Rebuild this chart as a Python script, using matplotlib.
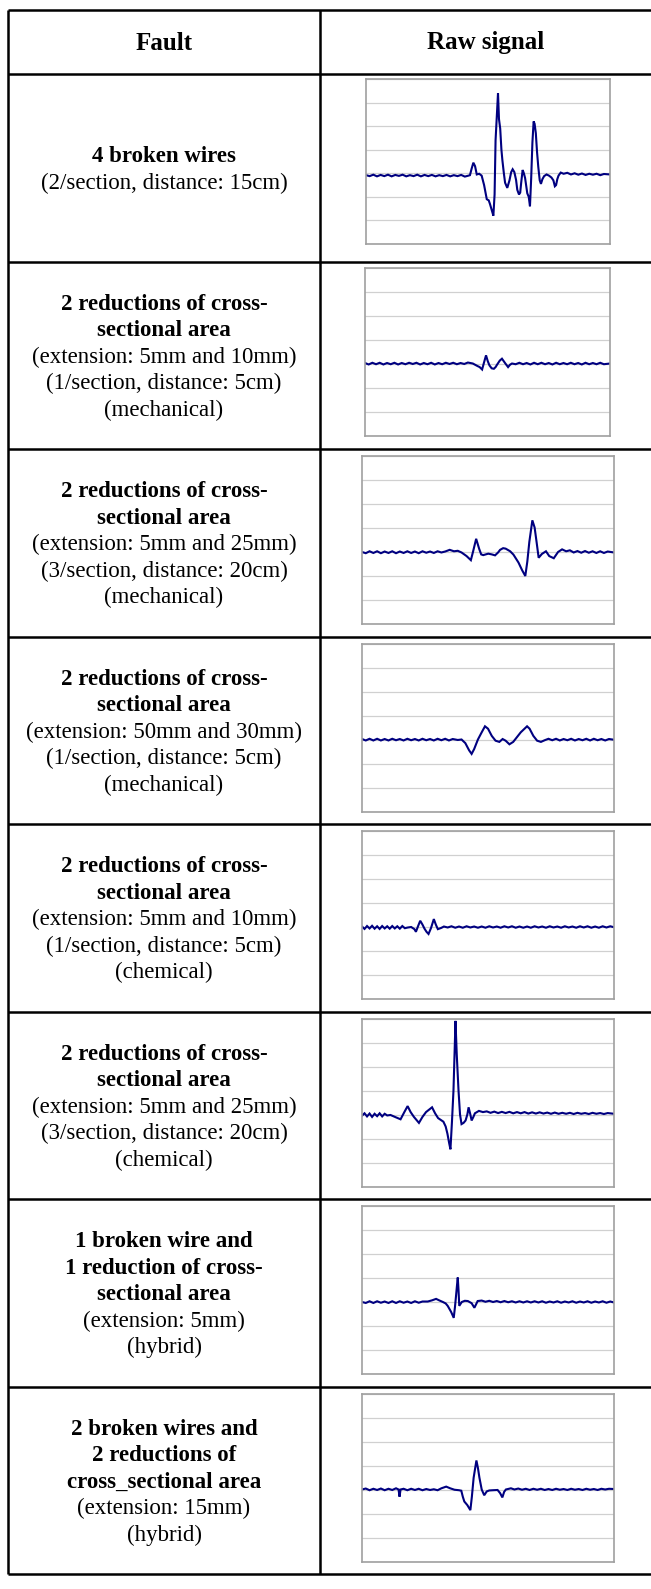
import matplotlib
matplotlib.use("Agg")
import matplotlib.pyplot as plt

# table texts
header = ["Fault", "Raw signal"]
fault_bold = [
    ["4 broken wires"],
    ["2 reductions of cross-", "sectional area"],
    ["2 reductions of cross-", "sectional area"],
    ["2 reductions of cross-", "sectional area"],
    ["2 reductions of cross-", "sectional area"],
    ["2 reductions of cross-", "sectional area"],
    ["1 broken wire and", "1 reduction of cross-", "sectional area"],
    ["2 broken wires and", "2 reductions of", "cross_sectional area"],
]
fault_info = [
    ["(2/section, distance: 15cm)"],
    ["(extension: 5mm and 10mm)", "(1/section, distance: 5cm)", "(mechanical)"],
    ["(extension: 5mm and 25mm)", "(3/section, distance: 20cm)", "(mechanical)"],
    ["(extension: 50mm and 30mm)", "(1/section, distance: 5cm)", "(mechanical)"],
    ["(extension: 5mm and 10mm)", "(1/section, distance: 5cm)", "(chemical)"],
    ["(extension: 5mm and 25mm)", "(3/section, distance: 20cm)", "(chemical)"],
    ["(extension: 5mm)", "(hybrid)"],
    ["(extension: 15mm)", "(hybrid)"],
]

# raw signals: (position % of window, amplitude in grid units)
sig1 = [(0, -0.08), (1.5, -0.12), (3, -0.06), (4.5, -0.13), (6, -0.07), (7.5, -0.12), (9, -0.06),
        (10.5, -0.13), (12, -0.07), (13.5, -0.11), (15, -0.06), (16.5, -0.13), (18, -0.08),
        (19.5, -0.12), (21, -0.06), (22.5, -0.13), (24, -0.07), (25.5, -0.12), (27, -0.07),
        (28.5, -0.13), (30, -0.08), (31.5, -0.12), (33, -0.07), (34.5, -0.13), (36, -0.08),
        (37.5, -0.12), (39, -0.07), (40.5, -0.14), (42, -0.1), (42.6, -0.08), (43.3, 0.2),
        (44.0, 0.45), (44.7, 0.3), (45.4, -0.05), (46.4, -0.02), (47.4, -0.1), (48.4, -0.5),
        (49.5, -1.1), (50.3, -1.15), (50.8, -1.3), (51.5, -1.55), (52.2, -1.8), (52.7, -0.9),
        (53.1, 1.4), (53.7, 2.6), (54.1, 3.4), (54.5, 2.3), (55.0, 1.9), (55.5, 1.0), (55.9, 0.55),
        (56.5, 0.0), (57.0, -0.4), (57.9, -0.62), (58.8, -0.3), (59.5, 0.05), (60.1, 0.17),
        (60.8, 0.05), (61.5, -0.28), (62.0, -0.7), (62.7, -0.9), (63.2, -0.82), (63.6, -0.4),
        (64.2, 0.14), (64.7, 0.0), (65.2, -0.2), (66.1, -0.85), (66.7, -1.0), (67.2, -1.4),
        (67.7, -0.2), (68.2, 1.3), (68.7, 2.2), (69.1, 2.1), (69.6, 1.7), (70.1, 0.9), (70.6, 0.28),
        (71.2, -0.3), (71.7, -0.45), (72.3, -0.25), (73.0, -0.12), (74.0, -0.05), (75.0, -0.1),
        (76.0, -0.18), (76.8, -0.3), (77.4, -0.55), (77.9, -0.5), (78.4, -0.25), (78.9, -0.1),
        (79.8, 0.03), (81, -0.02), (82.5, 0.02), (84, -0.05), (85.5, 0.0), (87, -0.06), (88.5, -0.01),
        (90, -0.07), (91.5, -0.02), (93, -0.06), (94.5, -0.02), (96, -0.08), (97.5, -0.03),
        (100, -0.05)]
sig2 = [(0, 0.02), (1.5, -0.04), (3, 0.03), (4.5, -0.03), (6, 0.03), (7.5, -0.04), (9, 0.02),
        (10.5, -0.03), (12, 0.03), (13.5, -0.04), (15, 0.02), (16.5, -0.03), (18, 0.03),
        (19.5, -0.02), (21, 0.03), (22.5, -0.04), (24, 0.02), (25.5, -0.03), (27, 0.03),
        (28.5, -0.04), (30, 0.02), (31.5, -0.03), (33, 0.03), (34.5, -0.02), (36, 0.03),
        (37.5, -0.03), (39, 0.02), (40.5, -0.02), (42, 0.04), (44, 0.0), (45.8, -0.1),
        (46.8, -0.15), (47.8, -0.25), (48.6, 0.05), (49.4, 0.34), (50.1, 0.1), (50.8, -0.08),
        (51.7, -0.2), (52.6, -0.22), (53.3, -0.15), (53.9, -0.05), (55.0, 0.12), (55.9, 0.2),
        (56.6, 0.1), (57.3, 0.0), (58.4, -0.15), (59.2, -0.05), (60.0, 0.0), (61.5, -0.03),
        (63, 0.03), (64.5, -0.03), (66, 0.02), (67.5, -0.04), (69, 0.03), (70.5, -0.03), (72, 0.03),
        (73.5, -0.03), (75, 0.02), (76.5, -0.04), (78, 0.03), (79.5, -0.03), (81, 0.02),
        (82.5, -0.03), (84, 0.03), (85.5, -0.03), (87, 0.02), (88.5, -0.04), (90, 0.03),
        (91.5, -0.03), (93, 0.02), (94.5, -0.03), (96, 0.03), (97.5, -0.03), (100, 0.0)]
sig3 = [(0, 0.0), (1.5, -0.05), (3, 0.03), (4.5, -0.04), (6, 0.03), (7.5, -0.05), (9, 0.02),
        (10.5, -0.04), (12, 0.03), (13.5, -0.05), (15, 0.02), (16.5, -0.04), (18, 0.03),
        (19.5, -0.04), (21, 0.02), (22.5, -0.05), (24, 0.03), (25.5, -0.03), (27, 0.02),
        (28.5, -0.04), (30, 0.03), (31.5, -0.02), (33, 0.02), (34.8, 0.09), (36.5, 0.03),
        (38, 0.05), (39.5, -0.02), (41.5, -0.17), (43.2, -0.34), (44.1, 0.03), (45.3, 0.55),
        (46.5, 0.13), (47.3, -0.1), (48.1, -0.13), (50.1, -0.07), (51.5, -0.1), (52.8, -0.14),
        (54.0, -0.02), (54.8, 0.09), (56.0, 0.16), (57.0, 0.14), (58.8, 0.03), (60.1, -0.11),
        (62.1, -0.44), (63.5, -0.75), (64.8, -1.0), (65.6, -0.4), (66.4, 0.42), (67.6, 1.32),
        (68.5, 1.02), (69.3, 0.4), (70.1, -0.24), (71.4, -0.08), (73.0, 0.03), (74.3, -0.17),
        (76.1, -0.26), (77.8, 0.0), (79.4, 0.11), (81, 0.03), (82.5, 0.07), (84, -0.02),
        (85.5, 0.04), (87, -0.03), (88.5, 0.04), (90, -0.03), (91.5, 0.03), (93, -0.04),
        (94.5, 0.03), (96, -0.04), (97.5, 0.02), (100, -0.02)]
sig4 = [(0, 0.02), (1.5, -0.04), (3, 0.03), (4.5, -0.04), (6, 0.03), (7.5, -0.04), (9, 0.02),
        (10.5, -0.04), (12, 0.03), (13.5, -0.03), (15, 0.02), (16.5, -0.04), (18, 0.03),
        (19.5, -0.03), (21, 0.02), (22.5, -0.04), (24, 0.03), (25.5, -0.03), (27, 0.02),
        (28.5, -0.04), (30, 0.03), (31.5, -0.03), (33, 0.03), (34.5, -0.04), (36, 0.02),
        (38, -0.02), (39.5, 0.0), (41.0, -0.15), (42.5, -0.45), (43.5, -0.6), (44.5, -0.4),
        (46.0, 0.0), (47.5, 0.3), (48.8, 0.55), (50.0, 0.45), (51.5, 0.15), (53.0, -0.05),
        (54.5, -0.1), (55.8, 0.02), (57.0, -0.05), (58.5, -0.2), (60.0, -0.1), (61.5, 0.1),
        (63.0, 0.3), (64.5, 0.45), (65.5, 0.55), (66.5, 0.45), (68.0, 0.15), (69.5, -0.05),
        (71.0, -0.1), (72.5, -0.03), (74, 0.03), (75.5, -0.03), (77, 0.03), (78.5, -0.04),
        (80, 0.02), (81.5, -0.03), (83, 0.03), (84.5, -0.04), (86, 0.02), (87.5, -0.03),
        (89, 0.03), (90.5, -0.04), (92, 0.03), (93.5, -0.03), (95, 0.02), (96.5, -0.04),
        (98, 0.02), (100, -0.01)]
sig5 = [(0, 0.02), (1, -0.08), (2, 0.04), (3, -0.06), (4, 0.05), (5, -0.07), (6, 0.03),
        (7, -0.08), (8, 0.04), (9, -0.06), (10, 0.03), (11, -0.07), (12, 0.04), (13, -0.06),
        (14, 0.03), (15, -0.07), (16, 0.04), (17, -0.05), (18.2, -0.02), (19.5, 0.0), (20.8, -0.09),
        (21.4, -0.2), (22.3, 0.05), (23.1, 0.26), (24.0, 0.1), (24.8, -0.07), (25.6, -0.2),
        (26.4, -0.29), (27.4, -0.04), (28.5, 0.33), (29.3, 0.1), (30.1, -0.09), (31.4, -0.04),
        (32.5, 0.02), (34, -0.02), (35.5, 0.03), (37, -0.03), (38.5, 0.02), (40, -0.03), (41.5, 0.03),
        (43, -0.02), (44.5, 0.02), (46, -0.03), (47.5, 0.02), (49, -0.03), (50.5, 0.03), (52, -0.02),
        (53.5, 0.02), (55, -0.03), (56.5, 0.03), (58, -0.02), (59.5, 0.03), (61, -0.03), (62.5, 0.02),
        (64, -0.03), (65.5, 0.02), (67, -0.03), (68.5, 0.03), (70, -0.02), (71.5, 0.02), (73, -0.03),
        (74.5, 0.03), (76, -0.02), (77.5, 0.02), (79, -0.03), (80.5, 0.03), (82, -0.02), (83.5, 0.02),
        (85, -0.03), (86.5, 0.03), (88, -0.02), (89.5, 0.03), (91, -0.03), (92.5, 0.02),
        (94, -0.03), (95.5, 0.03), (97, -0.02), (98.5, 0.03), (100, -0.01)]
sig6 = [(0, -0.05), (1, 0.05), (2, -0.08), (3, 0.04), (4, -0.1), (5, 0.03), (6, -0.07),
        (7, 0.05), (8, -0.08), (9, 0.03), (10, -0.04), (11.3, -0.02), (13.5, -0.12), (15.3, -0.2),
        (16.8, 0.1), (18.1, 0.35), (19.3, 0.1), (20.6, -0.1), (22.6, -0.35), (24.0, -0.1),
        (25.4, 0.1), (27.8, 0.3), (29.0, 0.05), (30.2, -0.15), (32.3, -0.3), (33.2, -0.5),
        (33.9, -0.8), (34.6, -1.2), (35.1, -1.45), (35.7, -0.3), (36.3, 1.0), (36.8, 2.8),
        (37.1, 3.9), (37.6, 2.5), (38.3, 1.0), (38.9, 0.0), (39.5, -0.4), (40.3, -0.35),
        (41.1, -0.25), (41.8, 0.0), (42.3, 0.3), (43.0, 0.0), (43.5, -0.25), (44.2, -0.1),
        (44.8, 0.05), (46.4, 0.15), (48, 0.1), (49.5, 0.13), (51, 0.07), (52.5, 0.12), (54, 0.06),
        (55.5, 0.11), (57, 0.06), (58.5, 0.11), (60, 0.05), (61.5, 0.1), (63, 0.05), (64.5, 0.1),
        (66, 0.04), (67.5, 0.09), (69, 0.04), (70.5, 0.09), (72, 0.04), (73.5, 0.08), (75, 0.03),
        (76.5, 0.08), (78, 0.03), (79.5, 0.07), (81, 0.03), (82.5, 0.07), (84, 0.02), (85.5, 0.07),
        (87, 0.03), (88.5, 0.06), (90, 0.02), (91.5, 0.07), (93, 0.03), (94.5, 0.06), (96, 0.02),
        (97.5, 0.06), (100, 0.03)]
sig7 = [(0, 0.0), (1.5, -0.04), (3, 0.03), (4.5, -0.04), (6, 0.03), (7.5, -0.03), (9, 0.02),
        (10.5, -0.04), (12, 0.03), (13.5, -0.04), (15, 0.03), (16.5, -0.03), (18, 0.02),
        (19.5, -0.04), (21, 0.03), (22.5, -0.03), (24, 0.02), (26.1, 0.02), (27.8, 0.07),
        (29.4, 0.13), (30.8, 0.06), (32.1, 0.0), (33.2, -0.06), (34.0, -0.16), (35.4, -0.42),
        (36.4, -0.66), (36.9, -0.2), (37.3, 0.24), (37.7, 0.7), (38.0, 1.02), (38.3, 0.5),
        (38.6, -0.16), (39.6, 0.0), (40.8, 0.05), (42.0, 0.04), (43.5, -0.05), (44.6, -0.24),
        (45.9, 0.04), (47.5, 0.06), (49, 0.01), (50.5, 0.05), (52, 0.0), (53.5, 0.04), (55, -0.01),
        (56.5, 0.04), (58, -0.01), (59.5, 0.03), (61, -0.02), (62.5, 0.03), (64, -0.02),
        (65.5, 0.03), (67, -0.02), (68.5, 0.03), (70, -0.02), (71.5, 0.03), (73, -0.03),
        (74.5, 0.02), (76, -0.02), (77.5, 0.03), (79, -0.03), (80.5, 0.02), (82, -0.02),
        (83.5, 0.03), (85, -0.03), (86.5, 0.02), (88, -0.02), (89.5, 0.03), (91, -0.03),
        (92.5, 0.02), (94, -0.02), (95.5, 0.03), (97, -0.03), (98.5, 0.02), (100, -0.02)]
sig8 = [(0, 0.0), (1.5, 0.04), (3, -0.03), (4.5, 0.03), (6, -0.02), (7.5, 0.04), (9, -0.03),
        (10.5, 0.03), (12, -0.02), (13.5, 0.05), (14.5, 0.0), (14.9, -0.3), (15.3, 0.0),
        (16.5, 0.03), (18, -0.03), (19.5, 0.03), (21, -0.02), (22.5, 0.03), (24, -0.03),
        (25.5, 0.02), (27, -0.02), (28.5, 0.01), (30, -0.03), (31.5, 0.05), (33.4, 0.12),
        (35.0, 0.05), (36.7, -0.01), (38.5, -0.03), (39.4, -0.05), (40.0, -0.3), (40.6, -0.5),
        (41.8, -0.65), (43.0, -0.86), (43.6, -0.3), (44.3, 0.49), (45.4, 1.21), (46.0, 0.9),
        (46.6, 0.49), (47.5, 0.0), (48.5, -0.24), (49.5, -0.08), (50.5, -0.04), (52.0, -0.03),
        (53.8, -0.02), (54.8, -0.15), (55.7, -0.33), (56.4, -0.1), (57.1, 0.0), (59.1, 0.05),
        (60.5, 0.0), (62, 0.04), (63.5, -0.01), (65, 0.03), (66.5, -0.02), (68, 0.03), (69.5, -0.01),
        (71, 0.03), (72.5, -0.02), (74, 0.02), (75.5, -0.02), (77, 0.03), (78.5, -0.01), (80, 0.02),
        (81.5, -0.02), (83, 0.03), (84.5, -0.01), (86, 0.02), (87.5, -0.02), (89, 0.03),
        (90.5, -0.01), (92, 0.02), (93.5, -0.02), (95, 0.03), (96.5, 0.0), (98, 0.03), (100, 0.02)]
signals = [sig1, sig2, sig3, sig4, sig5, sig6, sig7, sig8]

# page geometry in pixels
W, H = 651, 1589
left, mid, right = 8, 320, 651
top, head_bot, row_h = 10, 74, 187.5
font = "Liberation Serif"
line_h = 26.5

fig = plt.figure(figsize=(W / 100, H / 100), dpi=100)
page = fig.add_axes([0, 0, 1, 1])
page.set_xlim(0, W)
page.set_ylim(H, 0)
page.axis("off")

rows_y = [head_bot + i * row_h for i in range(len(signals) + 1)]
for y in [top] + rows_y:
    page.plot([left, right], [y, y], color="black", lw=1.8, solid_capstyle="butt")
for x in [left, mid]:
    page.plot([x, x], [top, rows_y[-1]], color="black", lw=1.8, solid_capstyle="butt")

page.text((left + mid) / 2, (top + head_bot) / 2 + 1, header[0], family=font, weight="bold",
          fontsize=18, ha="center", va="center")
page.text((mid + right) / 2, (top + head_bot) / 2 + 1, header[1], family=font, weight="bold",
          fontsize=18, ha="center", va="center")

for i, sig in enumerate(signals):
    y0 = rows_y[i]
    lines = [(t, "bold") for t in fault_bold[i]] + [(t, "normal") for t in fault_info[i]]
    yc = y0 + row_h / 2 + 2
    start = yc - (len(lines) - 1) * line_h / 2
    for k, (t, w) in enumerate(lines):
        page.text((left + mid) / 2, start + k * line_h, t, family=font, weight=w,
                  fontsize=16.5, ha="center", va="center")

    # small chart for the signal
    if i == 0:
        px, pw, pt, ph = 366, 244, y0 + 5, 165
    elif i == 1:
        px, pw, pt, ph = 365, 245, y0 + 6, 168
    else:
        px, pw, pt, ph = 362, 252, y0 + 7, 168
    ax = fig.add_axes([px / W, 1 - (pt + ph) / H, pw / W, ph / H])
    xs = [p[0] for p in sig]
    ys = [p[1] for p in sig]
    ax.plot(xs, ys, color="#000080", lw=1.5, solid_joinstyle="miter")
    ax.set_xlim(0, 100)
    ax.set_ylim(-3, 4)
    ax.set_yticks(range(-3, 5))
    ax.set_xticks([])
    ax.tick_params(length=0, labelleft=False)
    ax.grid(axis="y", color="#d0d0d0", lw=0.9)
    ax.set_axisbelow(True)
    for s in ax.spines.values():
        s.set_color("#a0a0a0")
        s.set_linewidth(1.2)

fig.savefig("out.png", dpi=100)
